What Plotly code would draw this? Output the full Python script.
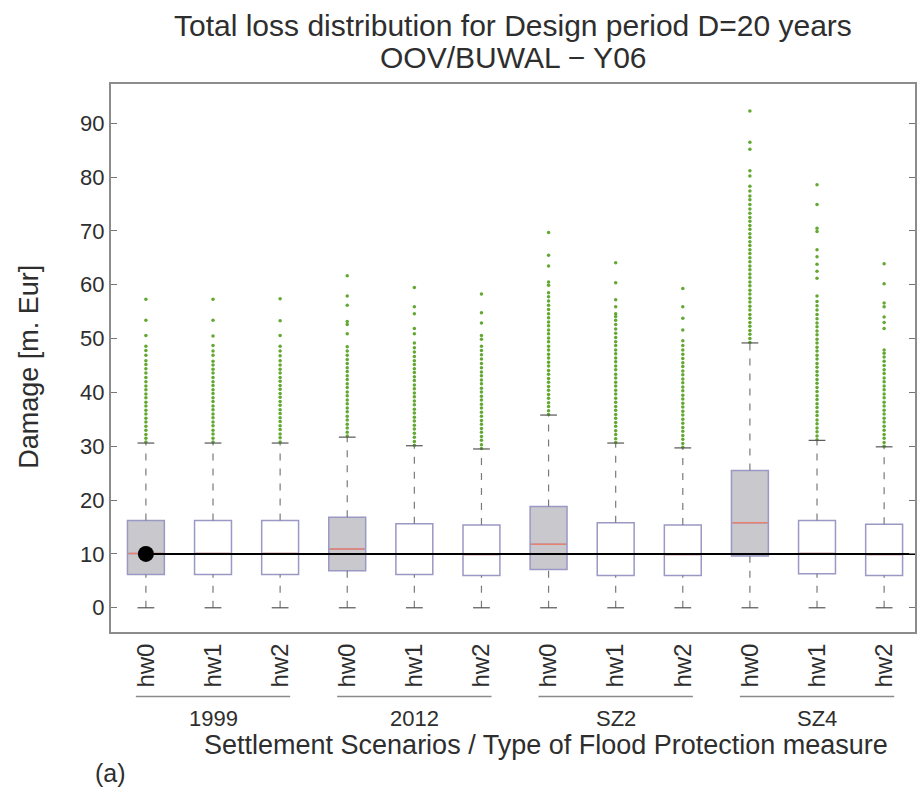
import plotly.graph_objects as go

# Scenario groups and flood-protection measures
groups = ["1999", "2012", "SZ2", "SZ4"]
measures = ["hw0", "hw1", "hw2"]
tick_labels = [m for g in groups for m in measures]
positions = list(range(1, len(tick_labels) + 1))

# Box statistics (m. Eur)
q1 = [6.2, 6.2, 6.2, 6.9, 6.2, 6.0, 7.1, 6.0, 6.0, 9.6, 6.3, 6.0]
median = [10.1, 10.1, 10.1, 10.9, 10.0, 9.9, 11.8, 10.0, 9.9, 15.8, 10.1, 9.9]
q3 = [16.2, 16.2, 16.2, 16.8, 15.6, 15.4, 18.8, 15.8, 15.4, 25.5, 16.2, 15.5]
whisker_low = [0.0] * 12
whisker_high = [30.6, 30.6, 30.6, 31.7, 30.1, 29.5, 35.8, 30.6, 29.7, 49.2, 31.1, 29.9]
shaded = [True, False, False, True, False, False, True, False, False, True, False, False]

# Outlying losses per box
outliers = [
    [30.8, 31.5, 32.2, 33.0, 33.7, 34.5, 35.2, 36.0, 36.7, 37.5, 38.2, 39.0, 39.7, 40.5, 41.2, 42.0,
     42.8, 43.6, 44.4, 45.2, 45.9, 46.9, 47.8, 48.6, 50.6, 53.4, 57.3],
    [30.8, 31.5, 32.3, 33.0, 33.8, 34.5, 35.3, 36.0, 36.8, 37.5, 38.3, 39.0, 39.8, 40.5, 41.3, 42.0,
     42.8, 43.6, 44.3, 45.1, 45.8, 46.9, 47.7, 48.7, 50.5, 53.4, 57.3],
    [30.8, 31.6, 32.3, 33.1, 33.8, 34.6, 35.3, 36.1, 36.8, 37.6, 38.3, 39.1, 39.8, 40.6, 41.3, 42.1,
     42.8, 43.6, 44.3, 45.1, 45.9, 46.8, 47.7, 48.6, 50.6, 53.3, 57.4],
    [31.9, 32.6, 33.4, 34.1, 34.9, 35.6, 36.4, 37.1, 37.9, 38.6, 39.4, 40.1, 40.9, 41.6, 42.4, 43.1,
     43.9, 44.6, 45.4, 46.1, 46.9, 47.7, 48.5, 50.9, 52.6, 53.2, 56.2, 57.9, 61.7],
    [30.2, 30.9, 31.7, 32.4, 33.2, 33.9, 34.7, 35.4, 36.2, 36.9, 37.7, 38.4, 39.2, 39.9, 40.7, 41.4,
     42.2, 42.9, 43.7, 44.4, 45.2, 45.9, 46.7, 47.5, 48.3, 49.2, 50.9, 51.9, 54.6, 55.9, 59.5],
    [29.6, 30.3, 31.1, 31.8, 32.6, 33.3, 34.1, 34.8, 35.6, 36.3, 37.1, 37.8, 38.6, 39.3, 40.1, 40.8,
     41.6, 42.3, 43.1, 43.8, 44.6, 45.4, 46.2, 47.0, 47.8, 48.6, 49.9, 50.6, 52.9, 54.8, 58.3],
    [35.9, 36.6, 37.4, 38.1, 38.9, 39.6, 40.4, 41.1, 41.9, 42.6, 43.4, 44.1, 44.9, 45.6, 46.4, 47.1,
     47.9, 48.6, 49.4, 50.1, 50.9, 51.6, 52.4, 53.1, 53.9, 54.6, 55.4, 56.2, 57.0, 57.8, 58.5, 59.9,
     60.5, 63.5, 65.5, 69.7],
    [30.7, 31.4, 32.2, 32.9, 33.7, 34.4, 35.2, 35.9, 36.7, 37.4, 38.2, 38.9, 39.7, 40.4, 41.2, 41.9,
     42.7, 43.4, 44.2, 44.9, 45.7, 46.4, 47.2, 47.9, 48.7, 49.4, 50.2, 51.0, 51.8, 52.6, 53.4, 54.1,
     54.6, 55.9, 57.2, 60.4, 64.1],
    [29.8, 30.5, 31.3, 32.0, 32.8, 33.5, 34.3, 35.0, 35.8, 36.5, 37.3, 38.0, 38.8, 39.5, 40.3, 41.0,
     41.8, 42.5, 43.3, 44.0, 44.8, 45.5, 46.3, 47.1, 47.9, 48.7, 49.6, 51.6, 53.8, 55.9, 59.3],
    [49.3, 50.0, 50.8, 51.5, 52.3, 53.0, 53.8, 54.5, 55.3, 56.0, 56.8, 57.5, 58.3, 59.0, 59.8, 60.5,
     61.3, 62.0, 62.8, 63.5, 64.3, 65.0, 65.8, 66.5, 67.3, 68.0, 68.8, 69.5, 70.3, 71.0, 71.8, 72.5,
     73.3, 74.1, 74.9, 75.8, 76.5, 77.4, 78.3, 80.2, 81.2, 85.2, 86.5, 92.3],
    [31.2, 31.9, 32.7, 33.4, 34.2, 34.9, 35.7, 36.4, 37.2, 37.9, 38.7, 39.4, 40.2, 40.9, 41.7, 42.4,
     43.2, 43.9, 44.7, 45.4, 46.2, 46.9, 47.7, 48.4, 49.2, 49.9, 50.7, 51.4, 52.2, 52.9, 53.7, 54.5,
     55.3, 56.1, 56.9, 57.9, 61.2, 62.5, 63.8, 65.2, 66.5, 69.9, 70.5, 74.9, 78.6],
    [30.0, 30.7, 31.5, 32.2, 33.0, 33.7, 34.5, 35.2, 36.0, 36.7, 37.5, 38.2, 39.0, 39.7, 40.5, 41.2,
     42.0, 42.7, 43.5, 44.2, 45.0, 45.8, 46.6, 47.3, 47.9, 51.9, 53.0, 54.0, 55.9, 56.6, 60.2, 63.9],
]

reference_level = 10.0
x_range = [0.48, 12.46]
y_range = [-4.5, 97.3]

FONT = "Liberation Sans, Arial, sans-serif"
TEXT = "#2e2e2e"
BOX_W = 0.55
CAP_HALF = 0.125

fig = go.Figure()

# whiskers (dashed)
for p, lo, hi, a, b in zip(positions, whisker_low, whisker_high, q1, q3):
    for y0, y1 in ((b, hi), (lo, a)):
        fig.add_trace(go.Scatter(
            x=[p, p], y=[y0, y1], mode="lines",
            line=dict(color="#7a7a7a", width=1.2, dash="7px,8px"),
            hoverinfo="skip", showlegend=False))

# boxes
for p, a, m, b, s in zip(positions, q1, median, q3, shaded):
    fig.add_trace(go.Box(
        x=[p], q1=[a], median=[m], q3=[b], lowerfence=[a], upperfence=[b],
        width=BOX_W, whiskerwidth=0,
        fillcolor="#c9c8cd" if s else "#ffffff",
        line=dict(color="#9a98c4", width=1.5),
        boxpoints=False, hoverinfo="skip", showlegend=False))

# medians in red
for p, m in zip(positions, median):
    fig.add_trace(go.Scatter(
        x=[p - BOX_W / 2 + 0.02, p + BOX_W / 2 - 0.02], y=[m, m], mode="lines",
        line=dict(color="#e8806e", width=1.5),
        hoverinfo="skip", showlegend=False))

# outliers
for p, vals in zip(positions, outliers):
    fig.add_trace(go.Scatter(
        x=[p] * len(vals), y=vals, mode="markers",
        marker=dict(color="#62a832", size=3.5, line=dict(width=0)),
        hoverinfo="skip", showlegend=False))

# whisker caps
for p, lo, hi in zip(positions, whisker_low, whisker_high):
    for yv in (lo, hi):
        fig.add_trace(go.Scatter(
            x=[p - CAP_HALF, p + CAP_HALF], y=[yv, yv], mode="lines",
            line=dict(color="#555555", width=1.2),
            hoverinfo="skip", showlegend=False))

# reference level from the 1999 / hw0 case
fig.add_trace(go.Scatter(
    x=[positions[0], x_range[1]], y=[reference_level, reference_level], mode="lines",
    line=dict(color="#000000", width=2), hoverinfo="skip", showlegend=False))
fig.add_trace(go.Scatter(
    x=[positions[0]], y=[reference_level], mode="markers",
    marker=dict(color="#000000", size=16), hoverinfo="skip", showlegend=False))

# group brackets and labels under the measure labels
annotations = []
shapes = []
for i, g in enumerate(groups):
    c = positions[i * 3 + 1]
    shapes.append(dict(type="line", xref="x", yref="paper",
                       x0=c - 1.15, x1=c + 1.15, y0=-0.1177, y1=-0.1177,
                       line=dict(color="#8a8a8a", width=1.5)))
    annotations.append(dict(text=g, xref="x", yref="paper", x=c, y=-0.157,
                            showarrow=False, xanchor="center", yanchor="middle",
                            font=dict(family=FONT, size=22, color=TEXT)))

annotations += [
    dict(text="Total loss distribution for Design period D=20 years",
         xref="paper", yref="paper", x=0.5, y=1 + (84 - 25) / 548,
         showarrow=False, xanchor="center", yanchor="middle",
         font=dict(family=FONT, size=30, color=TEXT)),
    dict(text="OOV/BUWAL − Y06",
         xref="paper", yref="paper", x=0.5, y=1 + (84 - 57) / 548,
         showarrow=False, xanchor="center", yanchor="middle",
         font=dict(family=FONT, size=30, color=TEXT)),
    dict(text="Damage [m. Eur]", xref="paper", yref="paper",
         x=-(111 - 28) / 806, y=(632.5 - 367) / 548, textangle=-90,
         showarrow=False, xanchor="center", yanchor="middle",
         font=dict(family=FONT, size=27, color=TEXT)),
    dict(text="Settlement Scenarios / Type of Flood Protection measure",
         xref="paper", yref="paper", x=(547 - 111) / 806, y=-(745 - 632.5) / 548,
         showarrow=False, xanchor="center", yanchor="middle",
         font=dict(family=FONT, size=27, color=TEXT)),
    dict(text="(a)", xref="paper", yref="paper", x=-(111 - 110) / 806, y=-(773 - 632.5) / 548,
         showarrow=False, xanchor="center", yanchor="middle",
         font=dict(family=FONT, size=25, color=TEXT)),
]

fig.update_layout(
    width=920, height=795,
    margin=dict(l=111, r=3, t=84, b=163),
    paper_bgcolor="#ffffff", plot_bgcolor="#ffffff",
    showlegend=False,
    annotations=annotations, shapes=shapes,
    xaxis=dict(range=x_range, tickmode="array", tickvals=positions, ticktext=tick_labels,
               tickangle=-90, ticks="", showgrid=False, zeroline=False,
               showline=True, mirror=True, linecolor="#8c8c8c", linewidth=2,
               tickfont=dict(family=FONT, size=24, color=TEXT)),
    yaxis=dict(range=y_range, tickmode="array", tickvals=list(range(0, 100, 10)),
               ticks="inside", ticklen=6, tickcolor="#777777", showgrid=False, zeroline=False,
               showline=True, mirror="allticks", linecolor="#8c8c8c", linewidth=2,
               tickfont=dict(family=FONT, size=22, color=TEXT)),
)

fig.write_html("out.html")
